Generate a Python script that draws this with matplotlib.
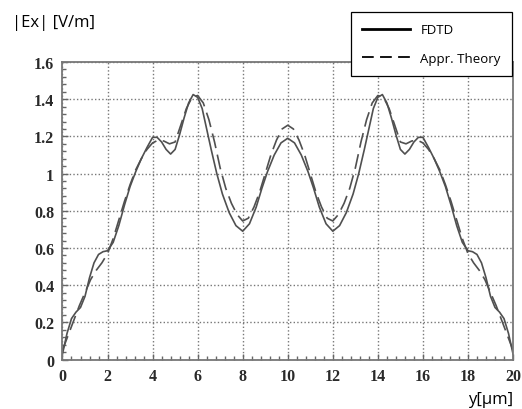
import matplotlib
matplotlib.use("Agg")
import matplotlib.pyplot as plt
from matplotlib.ticker import MultipleLocator

# FDTD field magnitude |Ex| across the guide
fdtd_y = [0.0, 0.2, 0.4, 0.6, 0.8, 1.0, 1.2, 1.4, 1.6, 1.8, 2.0, 2.25, 2.5, 2.75,
          3.0, 3.25, 3.5, 3.75, 4.0, 4.2, 4.4, 4.6, 4.8, 5.0, 5.2, 5.4, 5.6, 5.8,
          6.0, 6.2, 6.4, 6.6, 6.85, 7.1, 7.4, 7.7, 8.0, 8.3, 8.6, 8.85, 9.1, 9.4,
          9.7, 10.0, 10.3, 10.6, 10.9, 11.15, 11.4, 11.7, 12.0, 12.3, 12.6, 12.9,
          13.15, 13.4, 13.6, 13.8, 14.0, 14.2, 14.4, 14.6, 14.8, 15.0, 15.2, 15.4,
          15.6, 15.8, 16.0, 16.25, 16.5, 16.75, 17.0, 17.25, 17.5, 17.75, 18.0,
          18.2, 18.4, 18.6, 18.8, 19.0, 19.2, 19.4, 19.6, 19.8, 20.0]
fdtd_ex = [0.03, 0.14, 0.22, 0.255, 0.28, 0.34, 0.44, 0.52, 0.565, 0.58, 0.585,
           0.63, 0.72, 0.83, 0.93, 1.01, 1.08, 1.14, 1.195, 1.195, 1.17, 1.13,
           1.105, 1.13, 1.21, 1.30, 1.38, 1.425, 1.41, 1.35, 1.24, 1.13, 1.00,
           0.89, 0.79, 0.72, 0.69, 0.73, 0.82, 0.92, 1.01, 1.10, 1.165, 1.19,
           1.165, 1.10, 1.01, 0.92, 0.82, 0.73, 0.69, 0.72, 0.79, 0.89, 1.00,
           1.13, 1.24, 1.35, 1.41, 1.425, 1.38, 1.30, 1.21, 1.13, 1.105, 1.13,
           1.17, 1.195, 1.195, 1.14, 1.08, 1.01, 0.93, 0.83, 0.72, 0.63, 0.585,
           0.58, 0.565, 0.52, 0.44, 0.34, 0.28, 0.255, 0.22, 0.14, 0.03]

# Approximate theory
theory_y = [0.0, 0.25, 0.5, 0.75, 1.0, 1.25, 1.5, 1.75, 2.0, 2.25, 2.5, 2.75, 3.0,
            3.25, 3.5, 3.75, 4.0, 4.25, 4.5, 4.75, 5.0, 5.25, 5.5, 5.75, 6.0,
            6.25, 6.5, 6.75, 7.0, 7.25, 7.5, 7.75, 8.0, 8.25, 8.5, 8.75, 9.0,
            9.25, 9.5, 9.75, 10.0, 10.25, 10.5, 10.75, 11.0, 11.25, 11.5, 11.75,
            12.0, 12.25, 12.5, 12.75, 13.0, 13.25, 13.5, 13.75, 14.0, 14.25,
            14.5, 14.75, 15.0, 15.25, 15.5, 15.75, 16.0, 16.25, 16.5, 16.75,
            17.0, 17.25, 17.5, 17.75, 18.0, 18.25, 18.5, 18.75, 19.0, 19.25,
            19.5, 19.75, 20.0]
theory_ex = [0.05, 0.13, 0.21, 0.29, 0.36, 0.43, 0.48, 0.52, 0.57, 0.65, 0.75,
             0.85, 0.94, 1.02, 1.08, 1.13, 1.165, 1.18, 1.175, 1.16, 1.17, 1.26,
             1.35, 1.41, 1.42, 1.38, 1.29, 1.17, 1.03, 0.92, 0.84, 0.78, 0.745,
             0.76, 0.82, 0.90, 1.00, 1.10, 1.18, 1.24, 1.26, 1.24, 1.18, 1.10,
             1.00, 0.90, 0.82, 0.76, 0.745, 0.78, 0.84, 0.92, 1.03, 1.17, 1.29,
             1.38, 1.42, 1.41, 1.35, 1.26, 1.17, 1.16, 1.175, 1.18, 1.165, 1.13,
             1.08, 1.02, 0.94, 0.85, 0.75, 0.65, 0.57, 0.52, 0.48, 0.43, 0.36,
             0.29, 0.21, 0.13, 0.05]

x_ticks = [0, 2, 4, 6, 8, 10, 12, 14, 16, 18, 20]
x_tick_labels = ["0", "2", "4", "6", "8", "10", "12", "14", "16", "18", "20"]
y_ticks = [0, 0.2, 0.4, 0.6, 0.8, 1.0, 1.2, 1.4, 1.6]
y_tick_labels = ["0", "0.2", "0.4", "0.6", "0.8", "1", "1.2", "1.4", "1.6"]

fig = plt.figure(figsize=(5.22, 4.10), dpi=100)
ax = fig.add_axes([0.1197, 0.1207, 0.8631, 0.7256])

curve_color = "#505050"
ax.plot(fdtd_y, fdtd_ex, color=curve_color, lw=1.2, solid_joinstyle="round")
ax.plot(theory_y, theory_ex, color=curve_color, lw=1.2, dashes=(9, 4))

ax.set_xlim(0, 20)
ax.set_ylim(0, 1.6)
ax.set_xticks(x_ticks)
ax.set_xticklabels(x_tick_labels)
ax.set_yticks(y_ticks)
ax.set_yticklabels(y_tick_labels)
ax.xaxis.set_minor_locator(MultipleLocator(0.4))
ax.yaxis.set_minor_locator(MultipleLocator(0.04))

ax.grid(True, which="major", color="#777777", lw=1.0, linestyle=(0, (1, 1.6)))
ax.tick_params(which="both", direction="in", color="#666666", width=1.0,
               top=False, right=False)
ax.tick_params(which="major", length=4, pad=6, labelsize=11.5, labelcolor="#2a2a2a")
ax.tick_params(which="minor", length=3)
for lab in ax.get_xticklabels() + ax.get_yticklabels():
    lab.set_family("Liberation Serif")
    lab.set_fontweight("bold")
for sp in ax.spines.values():
    sp.set_color("#777777")
    sp.set_linewidth(1.3)

fig.text(0.023, 0.945, "|Ex| [V/m]", fontsize=12, family="Open Sans",
         ha="left", va="center")
fig.text(0.983, 0.025, "y[\u03bcm]", fontsize=12, family="Open Sans",
         ha="right", va="center")

handles = [
    plt.Line2D([], [], color="black", lw=2.0),
    plt.Line2D([], [], color="black", lw=1.3, dashes=(6.5, 3.5)),
]
leg = fig.legend(handles, ["FDTD", "Appr. Theory"], loc="upper right",
                 bbox_to_anchor=(0.981, 0.968), borderaxespad=0.0,
                 prop={"family": "Open Sans", "size": 9.5},
                 handlelength=3.6, handletextpad=0.8, labelspacing=1.15,
                 borderpad=0.85, fancybox=False, framealpha=1.0,
                 edgecolor="black")
leg.get_frame().set_linewidth(0.9)
leg.set_zorder(10)

fig.savefig("out.png", dpi=100)
